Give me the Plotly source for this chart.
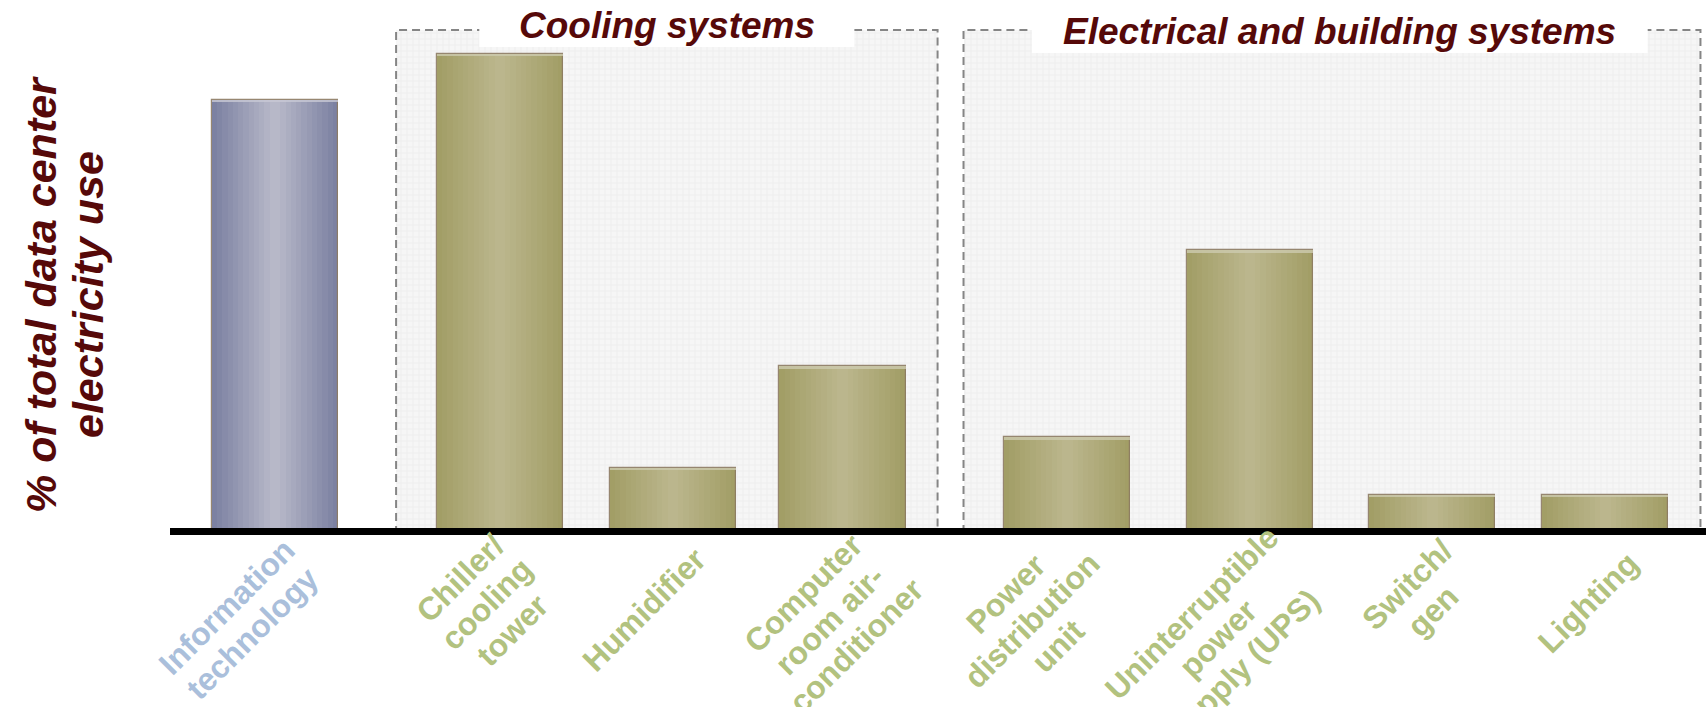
import math
import plotly.graph_objects as go

# ---------------- data ----------------
categories = ["Information<br>technology", "Chiller/<br>cooling<br>tower", "Humidifier",
              "Computer<br>room air-<br>conditioner", "Power<br>distribution<br>unit",
              "Uninterruptible<br>power<br>supply (UPS)", "Switch/<br>gen", "Lighting"]
share = [27.2, 30.1, 4.0, 10.4, 5.9, 17.7, 2.3, 2.3]
group = ["IT", "Cooling", "Cooling", "Cooling", "Electrical", "Electrical", "Electrical", "Electrical"]
group_titles = {"Cooling": "Cooling systems", "Electrical": "Electrical and building systems"}
y_title_lines = ["% of total data center", "electricity use"]

# ---------------- layout constants ----------------
pos = [0, 1.3, 2.3, 3.28, 4.58, 5.635, 6.69, 7.69]
bar_w = 0.73
x_range = [-0.607, 8.272]
y_range = [0, 33.5]
ML, MR, MT, MB = 170, 0, 0, 176
W, H = 1706, 707
PH = H - MT - MB

MAROON = "#560909"
FONT = "Liberation Sans, Arial, sans-serif"
edge_col = {"IT": (124, 129, 162), "Cooling": (162, 158, 102), "Electrical": (162, 158, 102)}
mid_col = {"IT": (183, 184, 200), "Cooling": (187, 182, 141), "Electrical": (187, 182, 141)}
hi_col = {"IT": "rgba(200,200,212,0.8)", "Cooling": "rgba(205,202,175,0.8)",
          "Electrical": "rgba(205,202,175,0.8)"}
label_col = {"IT": "#aabfdb", "Cooling": "#b2c27f", "Electrical": "#b2c27f"}
pad_l, pad_r = 0.6, 0.55
box_top_px = 30
title_box = {"Cooling": (1.084, 47, 25), "Electrical": (1.78, 53, 31)}  # half width, bottom px, text mid px
title_dx = {"Cooling": 0.0, "Electrical": 0.045}
label_nudge_x = [0, 0, 0, 22, 0, 22, 0, 0]
label_nudge_y = [0, 6, -4, 0, 0, 0, 0, 0]

# Arial-bold advance widths (em) used to centre rotated multi-line labels
AW = dict(zip("abcdefghijklmnopqrstuvwxyz",
              [.556, .611, .556, .611, .556, .333, .611, .611, .278, .278, .556, .278, .889,
               .611, .611, .611, .611, .389, .556, .333, .611, .556, .778, .556, .556, .5]))
AW.update({"C": .722, "H": .722, "I": .278, "L": .611, "P": .667, "S": .667, "U": .722,
           " ": .278, "/": .278, "-": .333, "(": .333, ")": .333})


def text_w(s, size):
    return sum(AW.get(ch, .6) for ch in s) * size


def px2paper(py):
    return (PH - py) / PH


def lerp(c1, c2, t):
    return "rgb(%d,%d,%d)" % tuple(round(a + (b - a) * t) for a, b in zip(c1, c2))


fig = go.Figure()

# group background boxes (patterned)
boxes = {}
for g in ["Cooling", "Electrical"]:
    idx = [i for i, gg in enumerate(group) if gg == g]
    x0 = pos[idx[0]] - pad_l
    x1 = pos[idx[-1]] + pad_r
    boxes[g] = (x0, x1)
    top_val = px2paper(box_top_px) * (y_range[1] - y_range[0])
    fig.add_trace(go.Bar(
        x=[(x0 + x1) / 2], y=[top_val], width=[x1 - x0], base=[0],
        marker=dict(color="#f6f6f6", line=dict(width=0),
                    pattern=dict(shape="+", size=6, solidity=0.15,
                                 fgcolor="#d9d9d9", bgcolor="#f6f6f6")),
        hoverinfo="skip", showlegend=False))

# gradient bars built from stacked-overlay layers
N = 12
for i in range(N):
    t = i / (N - 1)
    fig.add_trace(go.Bar(
        x=pos, y=share, width=bar_w * (1 - i / N),
        marker=dict(color=[lerp(edge_col[g], mid_col[g], t) for g in group], line=dict(width=0)),
        hovertext=[c.replace("<br>", " ") for c in categories], hoverinfo="text+y",
        showlegend=False))

# outline
fig.add_trace(go.Bar(
    x=pos, y=share, width=bar_w,
    marker=dict(color="rgba(0,0,0,0)", line=dict(width=1.2, color="rgba(140,122,98,0.9)")),
    hoverinfo="skip", showlegend=False))

# top highlight
hi_h = 0.15
fig.add_trace(go.Bar(
    x=pos, y=[hi_h] * len(share), base=[v - hi_h for v in share], width=bar_w,
    marker=dict(color=[hi_col[g] for g in group], line=dict(width=0)),
    hoverinfo="skip", showlegend=False))

shapes = []
annotations = []
for g, (x0, x1) in boxes.items():
    shapes.append(dict(type="rect", xref="x", yref="paper", x0=x0, x1=x1, y0=0,
                       y1=px2paper(box_top_px), line=dict(color="#858585", width=2, dash="8px,5px"),
                       fillcolor="rgba(0,0,0,0)", layer="above"))
for g, (x0, x1) in boxes.items():
    cx = (x0 + x1) / 2 + title_dx[g]
    hw, bot, mid = title_box[g]
    shapes.append(dict(type="rect", xref="x", yref="paper", x0=cx - hw, x1=cx + hw,
                       y0=px2paper(bot), y1=1.01, line=dict(width=0), fillcolor="white", layer="above"))
    annotations.append(dict(x=cx, y=px2paper(mid), xref="x", yref="paper", text=group_titles[g],
                            showarrow=False, xanchor="center", yanchor="middle",
                            font=dict(family=FONT, size=37, color=MAROON, weight="bold", style="italic")))

# axis baseline (thick black)
shapes.append(dict(type="line", xref="paper", yref="paper", x0=0, x1=1,
                   y0=-0.5 / PH, y1=-0.5 / PH, line=dict(color="black", width=7), layer="above"))

# category labels: rotated -45 deg, lines centred, tight line spacing
fs = 32
ls = 37
dx0, dy0 = 27, 27
c45 = math.sqrt(0.5)
for i, c in enumerate(categories):
    lines = c.split("<br>")
    n = len(lines)
    lw = max(text_w(s, fs) for s in lines)
    cx = dx0 - lw / 2 * c45 + label_nudge_x[i]
    cy = dy0 + lw / 2 * c45 + label_nudge_y[i]
    for j, s in enumerate(lines):
        k = j - (n - 1) / 2
        lx = cx + k * ls * c45
        ly = cy + k * ls * c45
        annotations.append(dict(
            x=pos[i], y=0, xref="x", yref="y", text=s, showarrow=False, textangle=-45,
            xanchor="center", yanchor="middle", borderpad=0,
            xshift=lx, yshift=-ly,
            font=dict(family=FONT, size=fs, color=label_col[group[i]], weight="bold")))

# y-axis title, two lines
for j, (s, xp) in enumerate(zip(y_title_lines, [41, 88])):
    annotations.append(dict(x=(xp - ML) / (W - ML - MR), y=px2paper(295), xref="paper", yref="paper",
                            text=s, showarrow=False, textangle=-90,
                            xanchor="center", yanchor="middle",
                            font=dict(family=FONT, size=43, color=MAROON, weight="bold", style="italic")))

fig.update_layout(
    width=W, height=H, margin=dict(l=ML, r=MR, t=MT, b=MB),
    barmode="overlay", bargap=0,
    paper_bgcolor="white", plot_bgcolor="white",
    xaxis=dict(range=x_range, visible=False, fixedrange=True),
    yaxis=dict(range=y_range, visible=False, fixedrange=True),
    shapes=shapes, annotations=annotations, showlegend=False,
)

fig.write_html("out.html")
